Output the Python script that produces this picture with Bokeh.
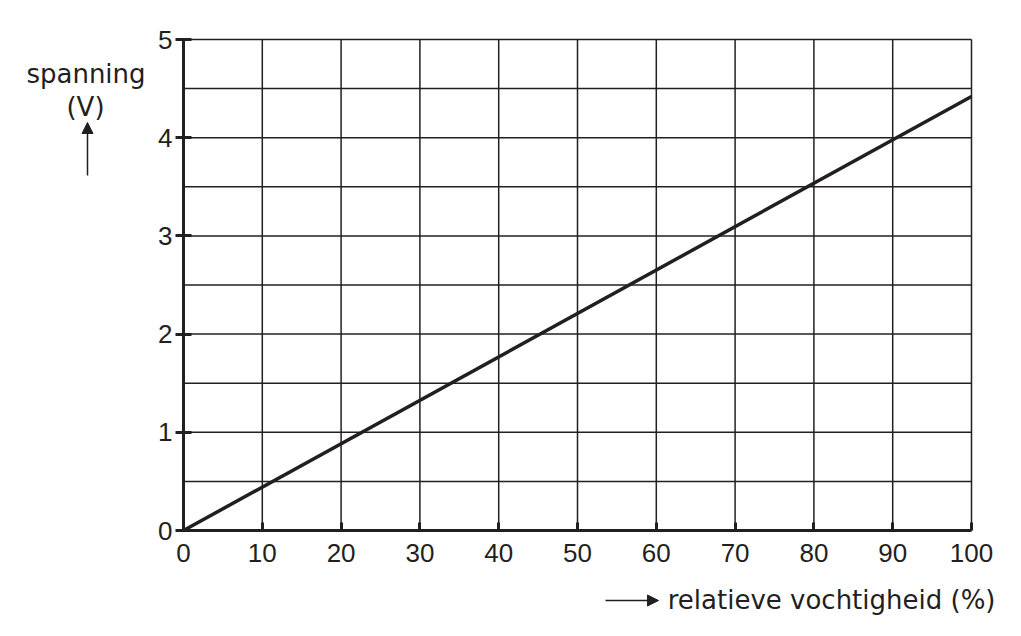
from bokeh.plotting import figure
from bokeh.models import Range1d, FixedTicker, Label, Arrow, NormalHead
from bokeh.embed import file_html
from bokeh.resources import INLINE

# data
humidity = [0, 100]
voltage = [0, 4.42]
x_ticks = [0, 10, 20, 30, 40, 50, 60, 70, 80, 90, 100]
y_ticks = [0, 1, 2, 3, 4, 5]
x_grid = [10, 20, 30, 40, 50, 60, 70, 80, 90, 100]
y_grid = [0.5, 1, 1.5, 2, 2.5, 3, 3.5, 4, 4.5, 5]
x_label = "relatieve vochtigheid (%)"
y_label_1 = "spanning"
y_label_2 = "(V)"

INK = "#231f20"
TICK_FONT = "Liberation Sans"
LABEL_FONT = "DejaVu Sans"

W, H = 1013, 628
# frame == canvas; place data area at px 183..971 (x) and 39..530 (y)
sx = (971 - 183) / 100.0
sy = (530 - 39) / 5.0
xmin = -183 / sx
xmax = xmin + W / sx
ymax = 5 + 39 / sy
ymin = ymax - H / sy

def px_x(px):
    return xmin + px / sx

def px_y(py):
    return ymax - py / sy

p = figure(width=W, height=H, output_backend="svg", toolbar_location=None,
           x_range=Range1d(xmin, xmax), y_range=Range1d(ymin, ymax), min_border=0)
p.outline_line_color = None
p.background_fill_color = "white"
p.grid.visible = False

# grid lines through data scales
p.segment(x0=x_grid, y0=[0] * len(x_grid), x1=x_grid, y1=[5] * len(x_grid),
          line_color=INK, line_width=1.5)
p.segment(x0=[0] * len(y_grid), y0=y_grid, x1=[100] * len(y_grid), y1=y_grid,
          line_color=INK, line_width=1.5)

for ax, ticks, b in ((p.xaxis[0], x_ticks, (0, 100)), (p.yaxis[0], y_ticks, (0, 5))):
    ax.fixed_location = 0
    ax.bounds = b
    ax.ticker = FixedTicker(ticks=ticks)
    ax.axis_line_color = INK
    ax.axis_line_width = 3
    ax.major_tick_line_color = INK
    ax.major_tick_line_width = 3
    ax.minor_tick_line_color = None
    ax.major_label_text_font = TICK_FONT
    ax.major_label_text_font_size = "26px"
    ax.major_label_text_color = INK

p.xaxis.major_tick_in = 8
p.xaxis.major_tick_out = 0
p.xaxis.major_label_standoff = 13
p.yaxis.major_tick_in = 8
p.yaxis.major_tick_out = 8
p.yaxis.major_label_standoff = 3

p.line(humidity, voltage, line_color=INK, line_width=3.5)

p.add_layout(Label(x=px_x(85.5), y=px_y(73), text=y_label_1, text_align="center",
                   text_baseline="alphabetic", text_font=LABEL_FONT, text_font_size="26px",
                   text_color=INK))
p.add_layout(Label(x=px_x(85), y=px_y(106), text=y_label_2, text_align="center",
                   text_baseline="alphabetic", text_font=LABEL_FONT, text_font_size="26px",
                   text_color=INK))
p.add_layout(Arrow(x_start=px_x(87), y_start=px_y(175), x_end=px_x(87), y_end=px_y(122),
                   line_color=INK, line_width=1.5,
                   end=NormalHead(size=11, fill_color=INK, line_color=INK, line_width=1)))
p.add_layout(Label(x=px_x(995), y=px_y(599), text=x_label, text_align="right",
                   text_baseline="alphabetic", text_font=LABEL_FONT, text_font_size="26px",
                   text_color=INK))
p.add_layout(Arrow(x_start=px_x(605), y_start=px_y(600), x_end=px_x(658), y_end=px_y(600),
                   line_color=INK, line_width=1.5,
                   end=NormalHead(size=11, fill_color=INK, line_color=INK, line_width=1)))

open("out.html", "w").write(file_html(p, INLINE))
